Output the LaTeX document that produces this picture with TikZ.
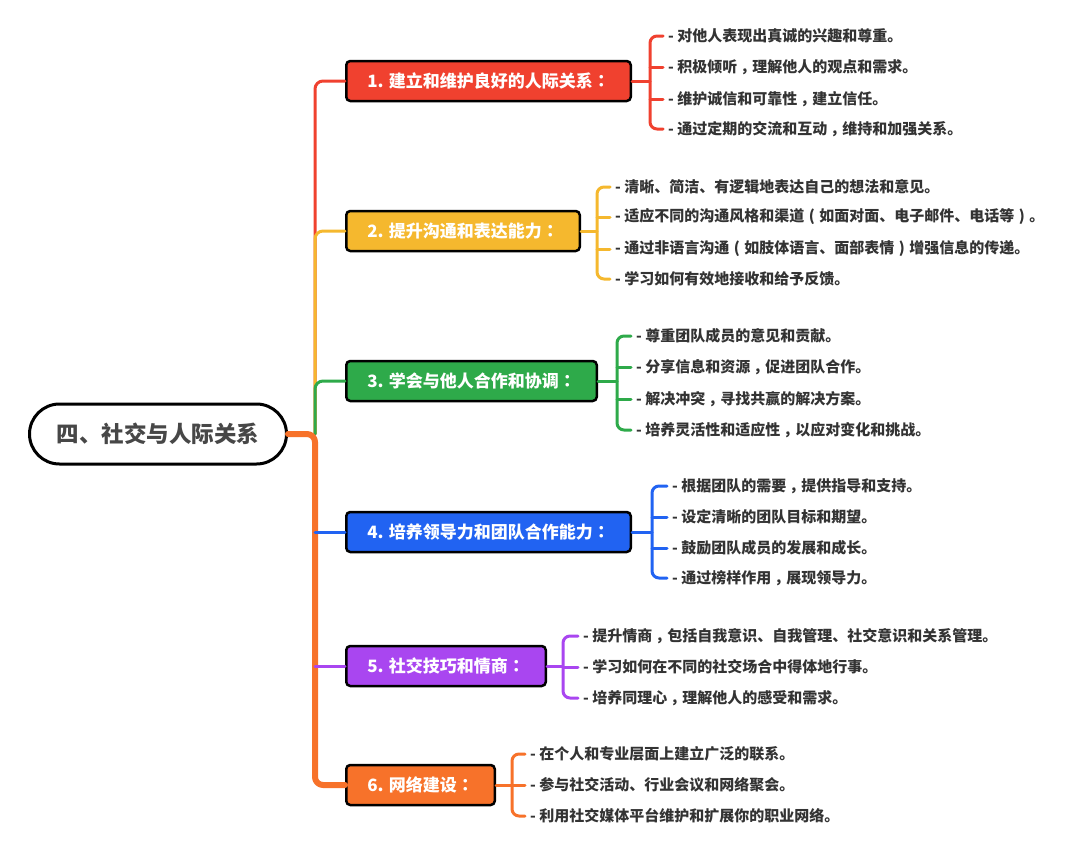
\documentclass[tikz,border=0pt]{standalone}
\usepackage{fontspec}
\setmainfont{Noto Sans CJK SC}
\newfontfamily\tcfont{Noto Sans CJK TC}
% centred full-width punctuation
\newcommand\zcomma{\hspace{0.2em}，\hspace{-0.2em}}
\newcommand\zcolon{{\tcfont ：}}
\newcommand\zlp{\makebox[1em]{(}}
\newcommand\zrp{\makebox[1em]{)}}
\definecolor{cred}{HTML}{F0412F}
\definecolor{cyellow}{HTML}{F5B82E}
\definecolor{cgreen}{HTML}{2EAA4A}
\definecolor{cblue}{HTML}{2163F2}
\definecolor{cpurple}{HTML}{A946F0}
\definecolor{corange}{HTML}{F7722A}
\definecolor{ctext}{HTML}{333333}
\begin{document}
\begin{tikzpicture}[x=1pt, y=-1pt, line join=round, line cap=round,
	rootbox/.style={draw=black, line width=3pt, rounded corners=30pt, fill=white, minimum width=257pt, minimum height=60pt, text=ctext!90, font=\fontsize{22.5}{26}\selectfont\bfseries},
	topic/.style={draw=black, line width=2.5pt, rounded corners=4pt, minimum height=40pt, inner xsep=21pt, text=white, anchor=west, font=\fontsize{17}{20}\selectfont\bfseries},
	leaf/.style={anchor=west, inner sep=2pt, text=ctext, font=\fontsize{15}{18}\selectfont\bfseries},
	link/.style={line width=3pt, rounded corners=8pt}]
	\useasboundingbox (0,0) rectangle (1080,852);
	% centre and trunk
	\node[rootbox] (root) at (158,434) {四、社交与人际关系};
	\coordinate (trunk) at (315,434);
	% topics
	\node[topic, fill=cred] (b1) at (345,81) {1. 建立和维护良好的人际关系\zcolon};
	\node[topic, fill=cyellow] (b2) at (345,231) {2. 提升沟通和表达能力\zcolon};
	\node[topic, fill=cgreen] (b3) at (345,381) {3. 学会与他人合作和协调\zcolon};
	\node[topic, fill=cblue] (b4) at (345,532) {4. 培养领导力和团队合作能力\zcolon};
	\node[topic, fill=cpurple] (b5) at (345,666) {5. 社交技巧和情商\zcolon};
	\node[topic, fill=corange] (b6) at (345,785) {6. 网络建设\zcolon};
	% trunk lines
	\draw[link, cred] (trunk) |- (b1.west);
	\draw[link, cyellow] (trunk) |- (b2.west);
	\draw[link, cgreen] (trunk) |- (b3.west);
	\draw[link, corange, line width=6pt] (root.east) -- (trunk) |- (b6.west);
	\draw[link, cblue] (b4.west -| trunk) -- (b4.west);
	\draw[link, cpurple] (b5.west -| trunk) -- (b5.west);
	% leaves
	\node[leaf] (l11) at (666,36) {- 对他人表现出真诚的兴趣和尊重。};
	\node[leaf] (l12) at (666,67) {- 积极倾听\zcomma 理解他人的观点和需求。};
	\node[leaf] (l13) at (666,99) {- 维护诚信和可靠性\zcomma 建立信任。};
	\node[leaf] (l14) at (666,129) {- 通过定期的交流和互动\zcomma 维持和加强关系。};
	\node[leaf] (l21) at (613,187) {- 清晰、简洁、有逻辑地表达自己的想法和意见。};
	\node[leaf] (l22) at (613,217) {- 适应不同的沟通风格和渠道\zlp 如面对面、电子邮件、电话等\zrp 。};
	\node[leaf] (l23) at (613,249) {- 通过非语言沟通\zlp 如肢体语言、面部表情\zrp 增强信息的传递。};
	\node[leaf] (l24) at (613,279) {- 学习如何有效地接收和给予反馈。};
	\node[leaf] (l31) at (634,336) {- 尊重团队成员的意见和贡献。};
	\node[leaf] (l32) at (634,367) {- 分享信息和资源\zcomma 促进团队合作。};
	\node[leaf] (l33) at (634,399) {- 解决冲突\zcomma 寻找共赢的解决方案。};
	\node[leaf] (l34) at (634,430) {- 培养灵活性和适应性\zcomma 以应对变化和挑战。};
	\node[leaf] (l41) at (670,486) {- 根据团队的需要\zcomma 提供指导和支持。};
	\node[leaf] (l42) at (670,517) {- 设定清晰的团队目标和期望。};
	\node[leaf] (l43) at (670,548) {- 鼓励团队成员的发展和成长。};
	\node[leaf] (l44) at (670,578) {- 通过榜样作用\zcomma 展现领导力。};
	\node[leaf] (l51) at (581,636) {- 提升情商\zcomma 包括自我意识、自我管理、社交意识和关系管理。};
	\node[leaf] (l52) at (581,667) {- 学习如何在不同的社交场合中得体地行事。};
	\node[leaf] (l53) at (581,698) {- 培养同理心\zcomma 理解他人的感受和需求。};
	\node[leaf] (l61) at (528,754) {- 在个人和专业层面上建立广泛的联系。};
	\node[leaf] (l62) at (528,785) {- 参与社交活动、行业会议和网络聚会。};
	\node[leaf] (l63) at (528,816) {- 利用社交媒体平台维护和扩展你的职业网络。};
	% brackets
	\foreach \b/\c/\x/\first/\last/\mid in {1/cred/650/1/4/{2,3}, 2/cyellow/597/1/4/{2,3}, 3/cgreen/617/1/4/{2,3},
		4/cblue/652/1/4/{2,3}, 5/cpurple/563/1/3/{2}, 6/corange/512/1/3/{2}}{
		\coordinate (br\b) at (\x,0);
		\draw[link, \c, rounded corners=7pt] ([xshift=-3pt]l\b\first.west) -- (l\b\first.west -| br\b)
			-- (l\b\last.west -| br\b) -- ([xshift=-3pt]l\b\last.west);
		\draw[link, \c] (b\b.east) -- (b\b.east -| br\b);
		\foreach \k in \mid
			\draw[link, \c] (l\b\k.west -| br\b) -- ([xshift=-3pt]l\b\k.west);
	}
\end{tikzpicture}
\end{document}
